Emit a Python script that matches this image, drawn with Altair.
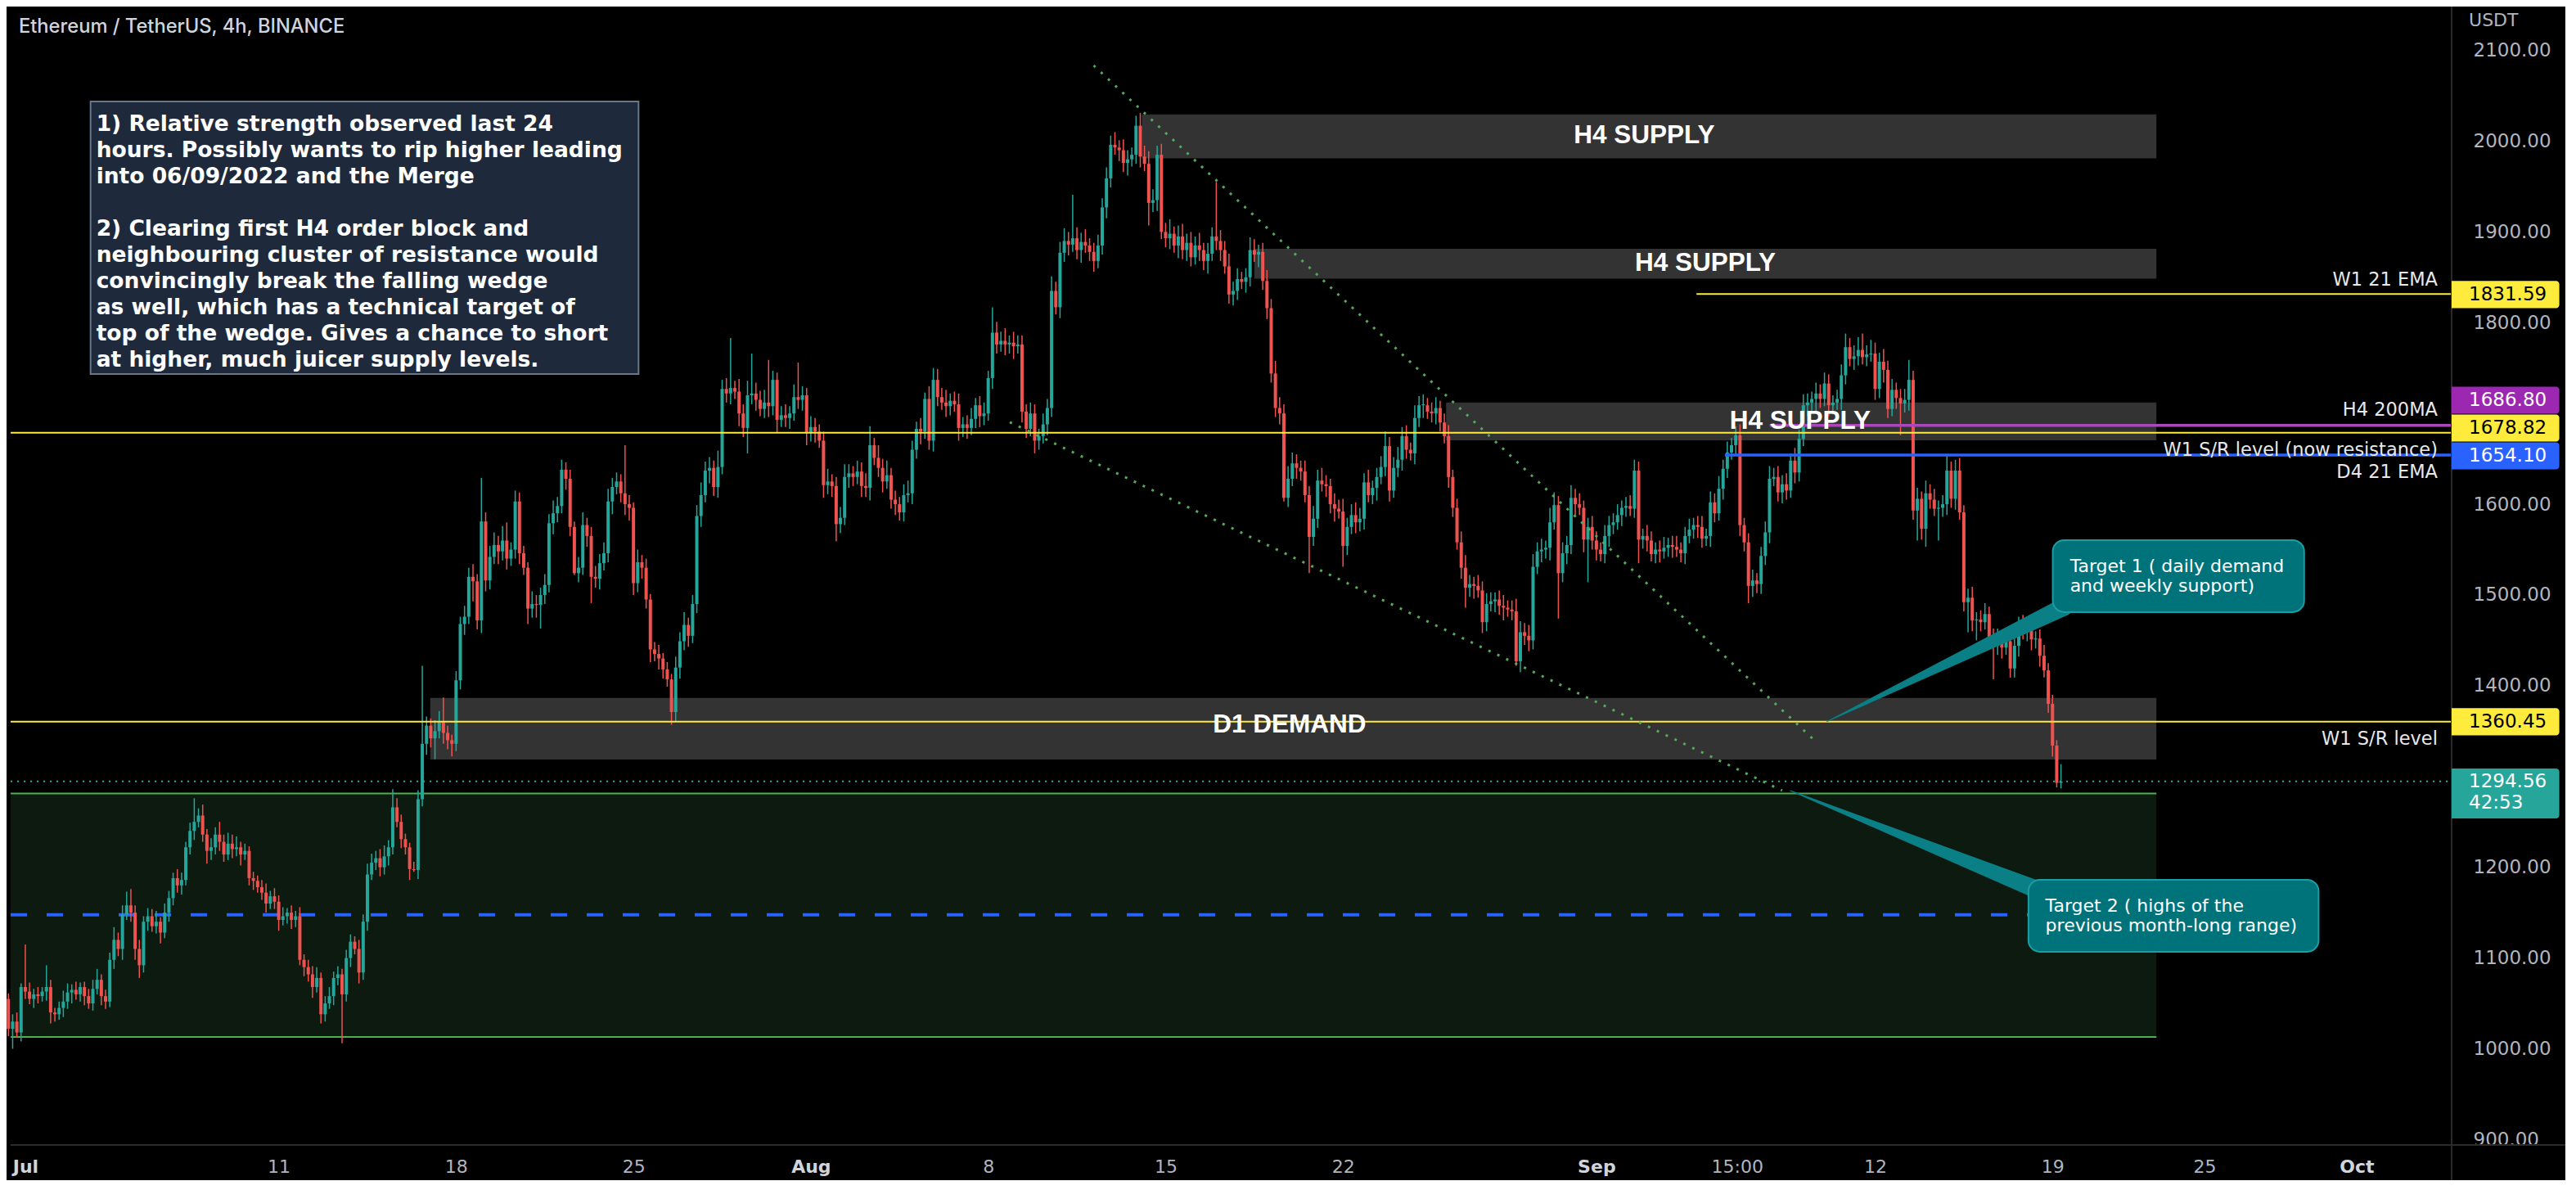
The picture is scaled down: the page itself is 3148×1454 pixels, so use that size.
import altair as alt
import pandas as pd

# ---------------- candle data: 4h candles, index 0 = 2022-07-01 00:00 ----------------
first_index = -4
first_open = 1055
closes = [
    1022, 1030, 1018, 1068, 1063, 1055, 1060, 1058, 1063, 1068,
    1040, 1038, 1045, 1052, 1062, 1065, 1060, 1068, 1058, 1050,
    1066, 1076, 1058, 1052, 1098, 1120, 1110, 1148, 1158, 1150,
    1110, 1092, 1140, 1146, 1135, 1140, 1128, 1150, 1166, 1188,
    1180, 1186, 1222, 1240, 1250, 1257, 1236, 1218, 1222, 1236,
    1228, 1214, 1226, 1220, 1222, 1214, 1218, 1188, 1185, 1178,
    1172, 1160, 1168, 1162, 1142, 1146, 1150, 1142, 1146, 1098,
    1090, 1082, 1068, 1078, 1038, 1050, 1058, 1078, 1082, 1060,
    1100, 1118, 1110, 1084, 1140, 1192, 1205, 1210, 1200, 1212,
    1222, 1266, 1250, 1231, 1222, 1198, 1197, 1275, 1336, 1356,
    1342, 1350, 1360, 1348, 1340, 1336, 1406, 1468, 1476, 1520,
    1515, 1472, 1581, 1516, 1542, 1555, 1548, 1560, 1540, 1550,
    1603, 1546, 1530, 1485, 1490, 1489, 1500, 1511, 1579, 1590,
    1598, 1638, 1628, 1575, 1524, 1530, 1577, 1565, 1520, 1518,
    1535, 1546, 1603, 1619, 1625, 1612, 1600, 1596, 1513, 1536,
    1530, 1495, 1440, 1435, 1430, 1418, 1407, 1371, 1420, 1449,
    1467, 1455, 1490, 1587, 1610, 1637, 1640, 1619, 1641, 1727,
    1722, 1728, 1724, 1700, 1684, 1720, 1722, 1715, 1705, 1712,
    1708, 1737, 1693, 1698, 1695, 1700, 1718, 1715, 1720, 1679,
    1685, 1680, 1670, 1621, 1625, 1620, 1578, 1585, 1630, 1634,
    1630, 1636, 1620, 1618, 1665, 1651, 1640, 1625, 1632, 1605,
    1600, 1591, 1610, 1612, 1660, 1683, 1680, 1716, 1670, 1737,
    1718, 1712, 1708, 1714, 1710, 1684, 1688, 1684, 1694, 1709,
    1697, 1700, 1739, 1789, 1776, 1780, 1776, 1778, 1774, 1776,
    1702, 1683, 1700, 1670, 1675, 1688, 1706, 1835, 1817, 1877,
    1890, 1886, 1893, 1880, 1889, 1885, 1878, 1868, 1885, 1927,
    1959, 1996, 1993, 1990, 1976, 1980, 1985, 2017, 1983, 1975,
    1932, 1935, 1985, 1900, 1893, 1898, 1885, 1895, 1880, 1888,
    1872, 1885, 1880, 1868, 1876, 1895, 1890, 1880, 1862, 1831,
    1835, 1848, 1845, 1850, 1880, 1875, 1878, 1846, 1816, 1744,
    1706, 1700, 1607, 1628, 1645, 1640, 1636, 1610, 1564, 1584,
    1626, 1622, 1620, 1600, 1595, 1592, 1554, 1575, 1588, 1580,
    1584, 1624, 1610, 1618, 1630, 1641, 1664, 1615, 1640, 1649,
    1675, 1660, 1656, 1695, 1709, 1709, 1702, 1700, 1706, 1690,
    1675, 1630, 1596, 1558, 1530, 1508, 1512, 1510, 1505, 1470,
    1490, 1493, 1495, 1488, 1486, 1484, 1482, 1427, 1459, 1455,
    1450, 1531, 1548, 1550, 1552, 1580, 1599, 1524, 1546, 1555,
    1607, 1600, 1596, 1561, 1575, 1560, 1550, 1545, 1565, 1577,
    1580, 1588, 1596, 1598, 1595, 1637, 1561, 1565, 1560, 1545,
    1550, 1548, 1552, 1555, 1553, 1550, 1546, 1565, 1572, 1577,
    1575, 1562, 1565, 1602, 1590, 1617, 1639, 1657, 1665, 1676,
    1577, 1558, 1510, 1516, 1512, 1543, 1569, 1628, 1630, 1613,
    1622, 1615, 1648, 1635, 1672, 1709, 1712, 1716, 1722, 1716,
    1733, 1709, 1712, 1716, 1742, 1773, 1760, 1763, 1770, 1762,
    1765, 1766, 1727, 1757, 1748, 1705, 1726, 1717, 1711, 1715,
    1737, 1593, 1606, 1573, 1612, 1605, 1595, 1596, 1600, 1637,
    1606, 1637, 1591, 1492, 1497, 1472, 1473, 1470, 1479, 1453,
    1444, 1451, 1442, 1449, 1419, 1444, 1466, 1459, 1468, 1451,
    1452, 1433, 1417, 1380, 1334, 1293, 1294.56,
]
wick_up = [
    6, 8, 10, 4, 47, 10, 6, 8, 5, 24,
    8, 5, 7, 12, 10, 6, 9, 5, 6, 8,
    10, 12, 6, 7, 8, 14, 8, 10, 15, 18,
    8, 10, 6, 9, 8, 12, 5, 10, 8, 6,
    10, 8, 6, 9, 26, 8, 12, 6, 10, 8,
    14, 8, 12, 10, 12, 6, 8, 5, 7, 6,
    8, 10, 6, 9, 7, 10, 5, 8, 6, 10,
    6, 8, 9, 12, 6, 8, 10, 7, 9, 6,
    9, 8, 6, 10, 8, 12, 10, 8, 10, 12,
    8, 20, 10, 8, 6, 5, 8, 10, 86, 10,
    8, 12, 12, 27, 8, 6, 10, 8, 12, 10,
    14, 8, 48, 10, 12, 14, 10, 16, 20, 8,
    12, 10, 8, 6, 14, 10, 8, 12, 10, 14,
    10, 11, 8, 10, 6, 12, 14, 8, 10, 12,
    10, 12, 14, 10, 10, 8, 53, 10, 6, 14,
    8, 10, 6, 8, 10, 6, 8, 6, 12, 10,
    14, 8, 10, 12, 14, 10, 12, 8, 18, 10,
    12, 55, 8, 14, 10, 16, 44, 12, 10, 14,
    47, 10, 8, 10, 12, 8, 14, 38, 10, 8,
    12, 10, 8, 10, 14, 8, 10, 12, 14, 10,
    8, 12, 10, 14, 21, 8, 14, 10, 16, 8,
    10, 8, 12, 14, 10, 8, 12, 7, 14, 13,
    12, 10, 14, 8, 10, 12, 8, 10, 12, 8,
    10, 12, 8, 28, 12, 10, 14, 8, 12, 10,
    10, 8, 12, 10, 8, 12, 10, 16, 10, 12,
    14, 10, 48, 12, 10, 14, 8, 10, 12, 10,
    12, 10, 14, 8, 12, 10, 8, 11, 14, 12,
    14, 12, 10, 12, 10, 16, 8, 12, 14, 10,
    12, 10, 14, 8, 12, 10, 60, 12, 10, 14,
    10, 12, 8, 10, 14, 12, 8, 10, 12, 10,
    14, 12, 10, 14, 12, 10, 8, 12, 10, 14,
    12, 14, 10, 8, 12, 10, 14, 10, 12, 14,
    12, 10, 14, 8, 10, 12, 16, 10, 12, 14,
    10, 12, 8, 14, 10, 12, 8, 10, 12, 8,
    10, 12, 8, 10, 12, 14, 10, 8, 12, 10,
    12, 10, 8, 10, 12, 8, 10, 14, 12, 10,
    12, 14, 10, 12, 8, 16, 14, 10, 12, 10,
    14, 10, 12, 8, 10, 12, 10, 8, 12, 10,
    10, 12, 8, 10, 12, 12, 10, 8, 12, 10,
    8, 10, 12, 8, 10, 12, 8, 10, 12, 8,
    10, 12, 8, 12, 10, 14, 10, 12, 8, 10,
    12, 8, 10, 12, 8, 10, 12, 14, 10, 12,
    10, 12, 8, 14, 10, 12, 10, 8, 12, 10,
    12, 10, 8, 10, 12, 15, 10, 12, 14, 18,
    10, 15, 12, 10, 14, 10, 12, 8, 10, 12,
    22, 10, 12, 8, 14, 10, 12, 8, 10, 18,
    10, 12, 14, 8, 10, 12, 8, 10, 12, 8,
    10, 12, 8, 10, 12, 11, 10, 12, 8, 10,
    8, 10, 12, 8, 10, 6, 19,
]
wick_dn = [
    8, 22, 6, 10, 8, 6, 10, 8, 6, 10,
    12, 8, 6, 10, 8, 12, 6, 8, 10, 6,
    8, 6, 10, 8, 6, 10, 8, 12, 6, 10,
    12, 14, 8, 10, 6, 8, 12, 6, 10, 8,
    8, 10, 6, 8, 10, 6, 8, 14, 10, 8,
    10, 8, 6, 10, 8, 12, 6, 8, 10, 6,
    8, 10, 6, 8, 12, 6, 8, 10, 8, 6,
    10, 8, 12, 6, 10, 8, 6, 10, 8, 54,
    8, 10, 6, 12, 8, 10, 6, 8, 10, 8,
    10, 8, 6, 10, 8, 12, 2, 10, 8, 12,
    10, 23, 8, 12, 10, 14, 8, 10, 12, 8,
    22, 10, 14, 12, 10, 8, 14, 10, 12, 8,
    10, 12, 8, 17, 10, 14, 26, 10, 8, 12,
    10, 8, 12, 10, 2, 10, 8, 12, 29, 10,
    12, 8, 10, 14, 8, 10, 12, 14, 13, 10,
    12, 10, 14, 8, 12, 10, 8, 14, 10, 12,
    10, 12, 8, 10, 12, 8, 14, 10, 12, 8,
    10, 12, 8, 14, 10, 28, 10, 12, 8, 10,
    12, 10, 14, 8, 10, 12, 8, 10, 12, 14,
    10, 12, 8, 14, 10, 12, 19, 10, 8, 12,
    10, 8, 12, 10, 14, 8, 10, 12, 8, 10,
    12, 9, 10, 8, 12, 10, 14, 8, 10, 12,
    10, 8, 12, 10, 8, 14, 10, 12, 8, 10,
    12, 10, 8, 12, 10, 8, 12, 10, 14, 8,
    12, 10, 8, 14, 10, 8, 12, 10, 8, 12,
    10, 12, 8, 10, 14, 8, 10, 12, 8, 10,
    12, 10, 8, 12, 10, 14, 8, 10, 12, 8,
    25, 10, 12, 8, 10, 12, 8, 14, 10, 12,
    10, 8, 12, 10, 14, 8, 10, 12, 8, 10,
    12, 10, 8, 12, 10, 8, 14, 10, 12, 10,
    10, 12, 4, 10, 8, 12, 10, 8, 40, 10,
    10, 8, 12, 10, 14, 8, 23, 10, 8, 12,
    10, 12, 8, 10, 14, 8, 10, 12, 8, 10,
    12, 10, 8, 12, 10, 14, 8, 10, 12, 10,
    8, 12, 10, 8, 12, 22, 10, 14, 8, 12,
    10, 8, 12, 10, 14, 8, 10, 5, 12, 10,
    12, 10, 8, 12, 10, 14, 8, 50, 10, 12,
    10, 12, 8, 14, 47, 10, 12, 8, 10, 12,
    10, 8, 12, 10, 8, 10, 26, 10, 12, 8,
    10, 12, 8, 10, 12, 8, 10, 12, 8, 10,
    12, 10, 8, 12, 10, 8, 12, 10, 8, 10,
    12, 10, 19, 12, 10, 11, 10, 12, 8, 10,
    12, 10, 8, 12, 10, 8, 12, 10, 14, 10,
    8, 12, 10, 8, 12, 10, 8, 12, 10, 8,
    10, 8, 12, 10, 14, 10, 8, 12, 35, 10,
    12, 10, 33, 12, 20, 10, 8, 35, 10, 12,
    10, 12, 8, 10, 33, 12, 22, 10, 8, 12,
    37, 10, 12, 8, 10, 10, 12, 8, 10, 12,
    10, 12, 8, 10, 12, 5, 6,
]

# ---------------- axis ticks ----------------
x_tick_days = [0, 10, 17, 24, 31, 38, 45, 52, 62, 67.55, 73, 80, 86, 92]
x_tick_labels = ["Jul", "11", "18", "25", "Aug", "8", "15", "22", "Sep", "15:00", "12", "19", "25", "Oct"]
month_days = [0, 31, 62, 92]
y_ticks = [900, 1000, 1100, 1200, 1400, 1500, 1600, 1800, 1900, 2000, 2100]

# ---------------- levels & zones ----------------
lvl_w1_ema = 1831.59
lvl_h4_ma = 1686.80
lvl_w1_sr_hi = 1678.82
lvl_d4_ema = 1654.10
lvl_w1_sr = 1360.45
lvl_last = 1294.56
lvl_range_mid = 1147.5
range_top, range_bot = 1281.3, 1013.0

zones = pd.DataFrame({
    "x0": [44.06, 48.5, 56.07, 15.98],
    "x1": [84.1, 84.1, 84.1, 84.1],
    "p0": [1981.0, 1848.4, 1670.4, 1318.7],
    "p1": [2029.5, 1881.4, 1712.0, 1386.5],
})
zone_labels = pd.DataFrame({
    "t": [63.89, 66.3, 70.04, 49.89],
    "p": [2005.9, 1865.2, 1691.2, 1356.6],
    "txt": ["H4 SUPPLY", "H4 SUPPLY", "H4 SUPPLY", "D1 DEMAND"],
})

X_MIN, X_MAX = -0.579, 95.75
Y_MIN, Y_MAX = 894.0, 2148.3
X_TAG_END = 100.0
X_FAR = 100.5

SANS = "DejaVu Sans"

# ---------------- build candle table ----------------
n = min(len(closes), len(wick_up), len(wick_dn))
rows = []
prev = first_open
for k in range(n):
    c = closes[k]
    o = prev
    hi = max(o, c) + wick_up[k]
    lo = min(o, c) - wick_dn[k]
    b0, b1 = min(o, c), max(o, c)
    if b1 - b0 < 1:
        b1 = b0 + 1
    rows.append({"t": (first_index + k) / 6.0, "o": o, "c": c, "h": hi, "l": lo,
                 "b0": b0, "b1": b1, "dir": "up" if c >= o else "down"})
    prev = c
candles = pd.DataFrame(rows)

# ---------------- scales & axes ----------------
xs = alt.Scale(domain=[X_MIN, X_MAX], nice=False, zero=False)
ys = alt.Scale(domain=[Y_MIN, Y_MAX], nice=False, zero=False)
lab_arr = "[" + ",".join("'%s'" % s for s in x_tick_labels) + "]"
val_arr = "[" + ",".join(str(v) for v in x_tick_days) + "]"
mon_arr = "[" + ",".join(str(v) for v in month_days) + "]"
month_test = "indexof(%s, datum.value) >= 0" % mon_arr

xaxis = alt.Axis(values=x_tick_days, labelExpr="%s[indexof(%s, datum.value)]" % (lab_arr, val_arr),
                 title=None, grid=False, ticks=False, domain=False, labelOverlap=False,
                 labelFont=SANS, labelFontSize=22, labelPadding=16,
                 labelColor={"condition": {"test": month_test, "value": "#d1d4dc"}, "value": "#b2b5be"},
                 labelFontWeight={"condition": {"test": month_test, "value": "bold"}, "value": "normal"})
yaxis = alt.Axis(orient="right", values=y_ticks, format=".2f", title=None, grid=False, ticks=False,
                 domain=False, labelOverlap=False, labelFont=SANS, labelFontSize=23,
                 labelColor="#b2b5be", labelPadding=21, labelAlign="left", labelBaseline="middle")


def X(f):
    return alt.X(f, type="quantitative", scale=xs, axis=xaxis)


def Y(f):
    return alt.Y(f, type="quantitative", scale=ys, axis=yaxis)


# ---------------- layers ----------------
range_df = pd.DataFrame({"x0": [X_MIN], "x1": [84.1], "p0": [range_bot], "p1": [range_top]})
range_rect = alt.Chart(range_df).mark_rect(color="#0c1a0f").encode(
    x=X("x0"), x2="x1", y=Y("p0"), y2="p1")
range_lines = alt.Chart(pd.DataFrame({"x0": [X_MIN, X_MIN], "x1": [84.1, 84.1], "p": [range_top, range_bot]})
                        ).mark_rule(color="#4caf50", strokeWidth=2).encode(x=X("x0"), x2="x1", y=Y("p"))

zone_rect = alt.Chart(zones).mark_rect(color="#333333").encode(x=X("x0"), x2="x1", y=Y("p0"), y2="p1")

ccol = alt.Color("dir:N", scale=alt.Scale(domain=["up", "down"], range=["#26a69a", "#ef5350"]), legend=None)
wicks = alt.Chart(candles).mark_rule(strokeWidth=1.5).encode(x=X("t"), y=Y("l"), y2="h", color=ccol)
bodies = alt.Chart(candles).mark_bar(size=4).encode(x=X("t"), y=Y("b0"), y2="b1", color=ccol)

solid_lines = pd.DataFrame({
    "x0": [X_MIN, X_MIN, 65.95, 68.84, 67.07],
    "x1": [X_MAX, X_MAX, X_MAX, X_MAX, X_MAX],
    "p": [lvl_w1_sr_hi, lvl_w1_sr, lvl_w1_ema, lvl_h4_ma, lvl_d4_ema],
    "col": ["#ffeb3b", "#ffeb3b", "#ffeb3b", "#ab47bc", "#2962ff"],
    "w": [2, 2, 2, 3.5, 3.5],
})
hl = alt.Chart(solid_lines).mark_rule().encode(
    x=X("x0"), x2="x1", y=Y("p"),
    color=alt.Color("col:N", scale=None), strokeWidth=alt.StrokeWidth("w:Q", scale=None))
dash_blue = alt.Chart(pd.DataFrame({"x0": [X_MIN], "x1": [83.65], "p": [lvl_range_mid]})).mark_rule(
    color="#2962ff", strokeWidth=4, strokeDash=[20, 24]).encode(x=X("x0"), x2="x1", y=Y("p"))
last_line = alt.Chart(pd.DataFrame({"x0": [X_MIN], "x1": [X_MAX], "p": [lvl_last]})).mark_rule(
    color="#26a69a", strokeWidth=2, strokeDash=[2, 6]).encode(x=X("x0"), x2="x1", y=Y("p"))

wedge = pd.DataFrame({
    "t": [42.16, 70.55, 38.85, 69.33],
    "p": [2083.4, 1341.3, 1690.4, 1284.5],
    "g": ["upper", "upper", "lower", "lower"],
})
wedge_lines = alt.Chart(wedge).mark_line(color="#56a85a", strokeWidth=3, strokeDash=[3, 9]).encode(
    x=X("t"), y=Y("p"), detail="g:N")

frame = alt.Chart(pd.DataFrame({"x0": [X_MIN], "x1": [X_FAR], "p": [Y_MIN]})).mark_rule(
    color="#2a2a2a", strokeWidth=2).encode(x=X("x0"), x2="x1", y=Y("p"))
frame_v = alt.Chart(pd.DataFrame({"t": [X_MAX], "p0": [Y_MAX], "p1": [850.0]})).mark_rule(
    color="#2a2a2a", strokeWidth=2).encode(x=X("t"), y=Y("p0"), y2="p1")

zone_text = alt.Chart(zone_labels).mark_text(font="Liberation Sans", fontSize=31.5, fontWeight="bold",
                                             color="white", align="center", baseline="middle").encode(
    x=X("t"), y=Y("p"), text="txt:N")

line_labels = pd.DataFrame({
    "t": [95.2, 95.2, 95.2, 95.2, 95.2],
    "p": [1847.2, 1703.8, 1659.6, 1635.3, 1341.3],
    "txt": ["W1 21 EMA", "H4 200MA", "W1 S/R level (now resistance)", "D4 21 EMA", "W1 S/R level"],
})
line_text = alt.Chart(line_labels).mark_text(font=SANS, fontSize=22.5, color="#e8e8e8", align="right",
                                             baseline="middle").encode(x=X("t"), y=Y("p"), text="txt:N")

title = alt.Chart(pd.DataFrame({"t": [-0.257], "p": [2125.8], "txt": ["Ethereum / TetherUS, 4h, BINANCE"]})
                  ).mark_text(font="Inter", fontSize=23.7, fontWeight=500, color="#d1d4dc", align="left",
                              baseline="middle").encode(x=X("t"), y=Y("p"), text="txt:N")
usdt = alt.Chart(pd.DataFrame({"t": [96.43], "p": [2133.0], "txt": ["USDT"]})).mark_text(
    font=SANS, fontSize=22, color="#b2b5be", align="left", baseline="middle").encode(
    x=X("t"), y=Y("p"), text="txt:N")

# note box: two paragraphs
note_par1 = [
    "1) Relative strength observed last 24",
    "hours. Possibly wants to rip higher leading",
    "into 06/09/2022 and the Merge",
]
note_par2 = [
    "2) Clearing first H4 order block and",
    "neighbouring cluster of resistance would",
    "convincingly break the falling wedge",
    "as well, which has a technical target of",
    "top of the wedge. Gives a chance to short",
    "at higher, much juicer supply levels.",
]
note_box = alt.Chart(pd.DataFrame({"x0": [2.575], "x1": [24.2], "p0": [1743.5], "p1": [2043.7]})).mark_rect(
    fill="#1e2a3b", stroke="#687789", strokeWidth=2).encode(x=X("x0"), x2="x1", y=Y("p0"), y2="p1")
note_text = alt.Chart(pd.DataFrame({"t": [2.80, 2.80], "p": [2030.2, 1914.8],
                                    "txt": ["\n".join(note_par1), "\n".join(note_par2)]})).mark_text(
    font=SANS, fontSize=26.5, fontWeight="bold", color="white", align="left", baseline="top",
    lineBreak="\n", lineHeight=32).encode(x=X("t"), y=Y("p"), text="txt:N")

# target callouts
ptr = pd.DataFrame({
    "t": [71.1, 80.43, 69.65, 79.47],
    "p": [1360.5, 1486.5, 1284.5, 1174.5],
    "s": [0, 22, 0, 22],
    "g": ["a", "a", "b", "b"],
})
pointers = alt.Chart(ptr).mark_trail(color="#0b7f86").encode(
    x=X("t"), y=Y("p"), size=alt.Size("s:Q", scale=None, legend=None), detail="g:N")
tboxes = alt.Chart(pd.DataFrame({"x0": [80.01, 79.05], "x1": [89.93, 90.5], "p0": [1481.1, 1106.9],
                                 "p1": [1560.4, 1186.2]})).mark_rect(
    fill="#00727a", stroke="#1a9da3", strokeWidth=2, cornerRadius=14).encode(
    x=X("x0"), x2="x1", y=Y("p0"), y2="p1")
ttext = alt.Chart(pd.DataFrame({"t": [80.69, 79.72], "p": [1540.1, 1165.9],
                                "txt": ["Target 1 ( daily demand\nand weekly support)",
                                        "Target 2 ( highs of the\nprevious month-long range)"]})).mark_text(
    font=SANS, fontSize=22, color="white", align="left", baseline="top", lineBreak="\n",
    lineHeight=24).encode(x=X("t"), y=Y("p"), text="txt:N")

# price tags on the axis
tags = pd.DataFrame({
    "c": [1831.0, 1714.6, 1684.0, 1653.3, 1360.3],
    "txt": ["1831.59", "1686.80", "1678.82", "1654.10", "1360.45"],
    "fill": ["#ffeb3b", "#9c27b0", "#ffeb3b", "#2962ff", "#ffeb3b"],
    "tc": ["#000000", "#ffffff", "#000000", "#ffffff", "#000000"],
})
tags["p0"] = tags["c"] - 14.9
tags["p1"] = tags["c"] + 14.9
tags["x0"] = X_MAX
tags["x1"] = X_TAG_END
tags["tx"] = 96.43
tag_rect = alt.Chart(tags).mark_rect(cornerRadiusTopRight=4, cornerRadiusBottomRight=4).encode(
    x=X("x0"), x2="x1", y=Y("p0"), y2="p1", color=alt.Color("fill:N", scale=None))
tag_text = alt.Chart(tags).mark_text(font=SANS, fontSize=23, align="left", baseline="middle").encode(
    x=X("tx"), y=Y("c"), text="txt:N", color=alt.Color("tc:N", scale=None))
last_tag = alt.Chart(pd.DataFrame({"x0": [X_MAX], "x1": [X_TAG_END], "p0": [1253.8], "p1": [1308.8]})
                     ).mark_rect(color="#26a69a", cornerRadiusTopRight=4, cornerRadiusBottomRight=4).encode(
    x=X("x0"), x2="x1", y=Y("p0"), y2="p1")
last_text = alt.Chart(pd.DataFrame({"t": [96.43], "p": [1304.6], "txt": ["1294.56\n42:53"]})).mark_text(
    font=SANS, fontSize=23, color="white", align="left", baseline="top", lineBreak="\n",
    lineHeight=26).encode(x=X("t"), y=Y("p"), text="txt:N")

chart = alt.layer(
    range_rect, range_lines, zone_rect, dash_blue, wicks, bodies, hl, last_line, wedge_lines,
    frame, frame_v, zone_text, line_text, title, usdt, note_box, note_text,
    pointers, tboxes, ttext, tag_rect, tag_text, last_tag, last_text,
).properties(
    width=2993, height=1391,
    autosize=alt.AutoSizeParams(type="none"),
    padding={"left": 0, "top": 0, "right": 134, "bottom": 43},
    background="#000000",
).configure_view(stroke=None)

chart.save("out.html", embed_options={"renderer": "svg", "actions": False})
